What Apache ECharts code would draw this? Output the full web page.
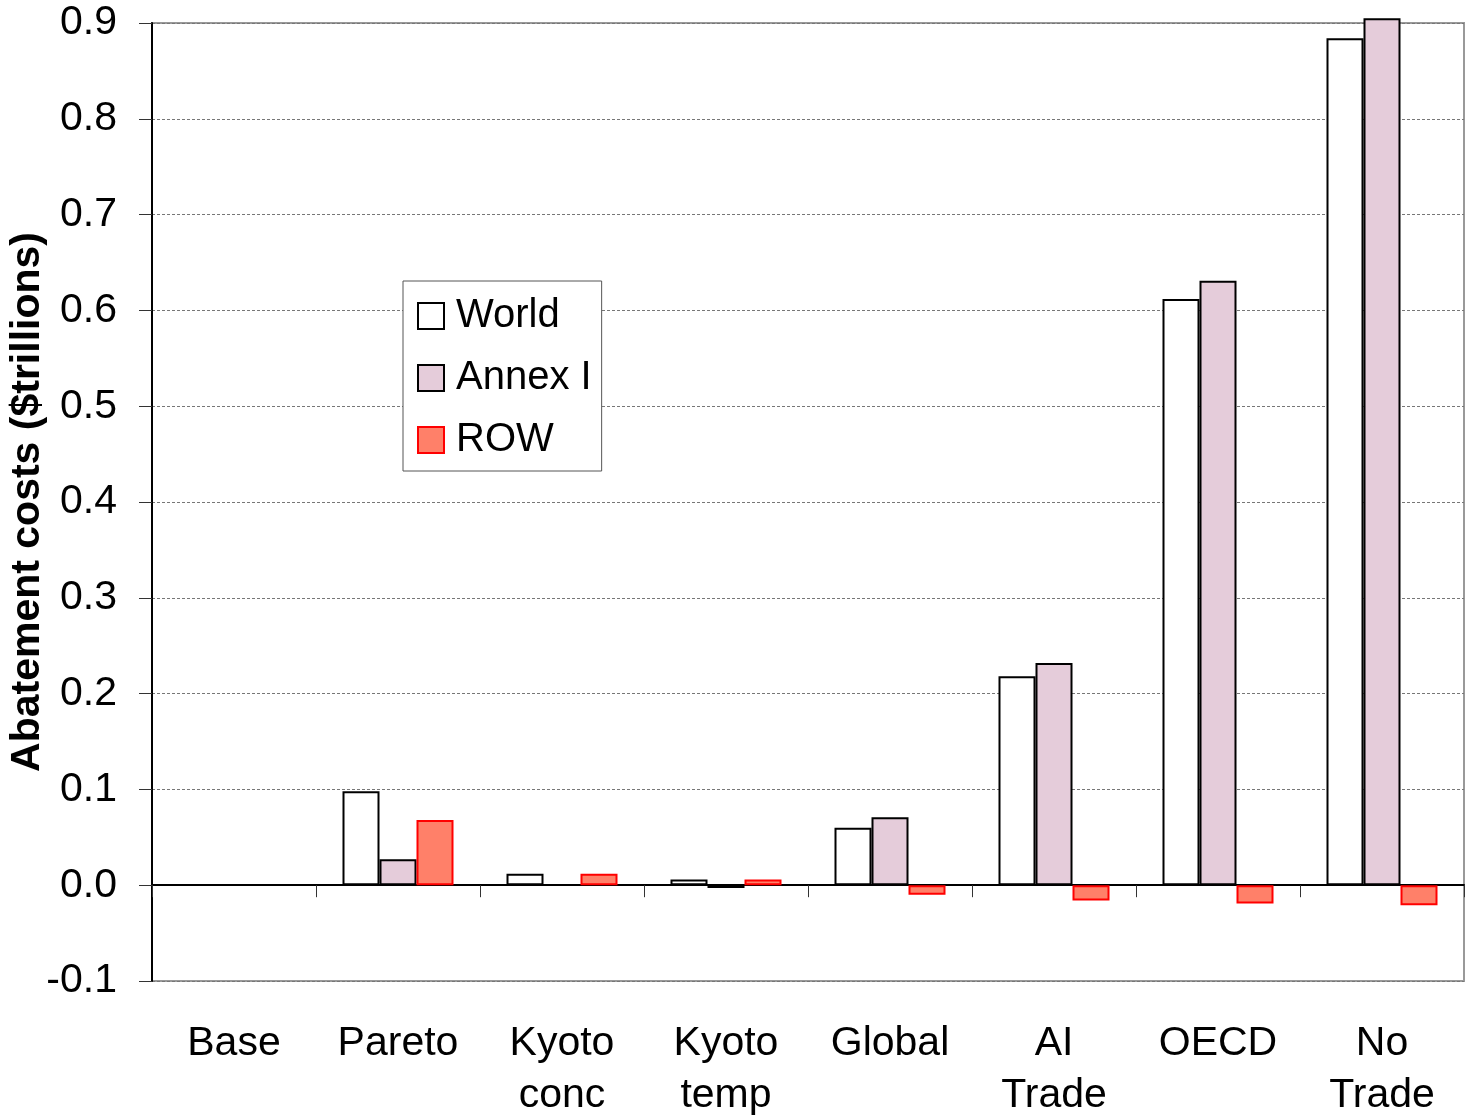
<!DOCTYPE html>
<html>
<head>
<meta charset="utf-8">
<script src="https://cdn.jsdelivr.net/npm/echarts@6/dist/echarts.min.js"></script>
<style>
html,body{margin:0;padding:0;background:#fff;}
#chart{width:1471px;height:1118px;}
</style>
</head>
<body>
<div id="chart"></div>
<script>
const categories = ['Base', 'Pareto', 'Kyoto\nconc', 'Kyoto\ntemp', 'Global', 'AI\nTrade', 'OECD', 'No\nTrade'];
const world   = [null, 0.098, 0.012, 0.006, 0.060, 0.218, 0.612, 0.884];
const annexI  = [null, 0.027, null,  -0.003, 0.071, 0.232, 0.631, 0.905];
const row     = [null, 0.068, 0.012, 0.006, -0.010, -0.016, -0.019, -0.021];
const yTicks  = { min: -0.1, max: 0.9, interval: 0.1 };

const chart = echarts.init(document.getElementById('chart'), null, { renderer: 'canvas' });
const FONT = '"Liberation Sans", Arial, sans-serif';

const barBase = { type: 'bar', barWidth: 37, barGap: '0%', clip: false, xAxisIndex: 0, yAxisIndex: 0 };

chart.setOption({
  backgroundColor: '#fff',
  animation: false,
  grid: { left: 152, right: 7, top: 23, bottom: 137, containLabel: false, outerBoundsMode: 'none', show: true, borderColor: '#999', borderWidth: 2, backgroundColor: 'transparent' },
  legend: {
    orient: 'vertical',
    left: 403, top: 281,
    backgroundColor: '#fff',
    borderColor: '#555',
    borderWidth: 1,
    borderRadius: 0,
    padding: [15, 10, 11, 14],
    itemWidth: 26, itemHeight: 26, itemGap: 22,
    icon: 'rect',
    textStyle: { fontFamily: FONT, fontSize: 40, color: '#000', padding: [0, 0, 0, 7] },
    data: ['World', 'Annex I', 'ROW']
  },
  xAxis: [
    {
      type: 'category', data: categories, position: 'bottom',
      axisLine: { onZero: true, lineStyle: { color: '#000', width: 2 } },
      axisTick: { show: true, length: 12, lineStyle: { color: '#333', width: 1 } },
      axisLabel: { show: false },
      splitLine: { show: false }
    },
    {
      type: 'category', data: categories, position: 'bottom',
      axisLine: { show: false, onZero: false },
      axisTick: { show: false },
      axisLabel: { show: true, fontFamily: FONT, fontSize: 41, color: '#000', margin: 37, lineHeight: 52, interval: 0 },
      splitLine: { show: false }
    }
  ],
  yAxis: {
    type: 'value', min: yTicks.min, max: yTicks.max, interval: yTicks.interval,
    name: 'Abatement costs ($trillions)',
    nameLocation: 'middle', nameGap: 104, nameMoveOverlap: false,
    nameTextStyle: { fontFamily: FONT, fontSize: 41, fontWeight: 'bold', color: '#000' },
    axisLine: { show: true, lineStyle: { color: '#000', width: 2 } },
    axisTick: { show: true, inside: false, length: 13, lineStyle: { color: '#333', width: 1 } },
    axisLabel: { fontFamily: FONT, fontSize: 41, color: '#000', margin: 35, formatter: v => v.toFixed(1) },
    splitLine: { show: true, lineStyle: { color: '#777', type: [3, 2], width: 1 } }
  },
  series: [
    Object.assign({}, barBase, { name: 'World', data: world, itemStyle: { color: '#fff', borderColor: '#000', borderWidth: 2 } }),
    Object.assign({}, barBase, { name: 'Annex I', data: annexI, itemStyle: { color: '#E5CCDA', borderColor: '#000', borderWidth: 2 } }),
    Object.assign({}, barBase, { name: 'ROW', data: row, itemStyle: { color: '#FF8069', borderColor: '#FF0000', borderWidth: 2 } })
  ]
});
</script>
</body>
</html>
